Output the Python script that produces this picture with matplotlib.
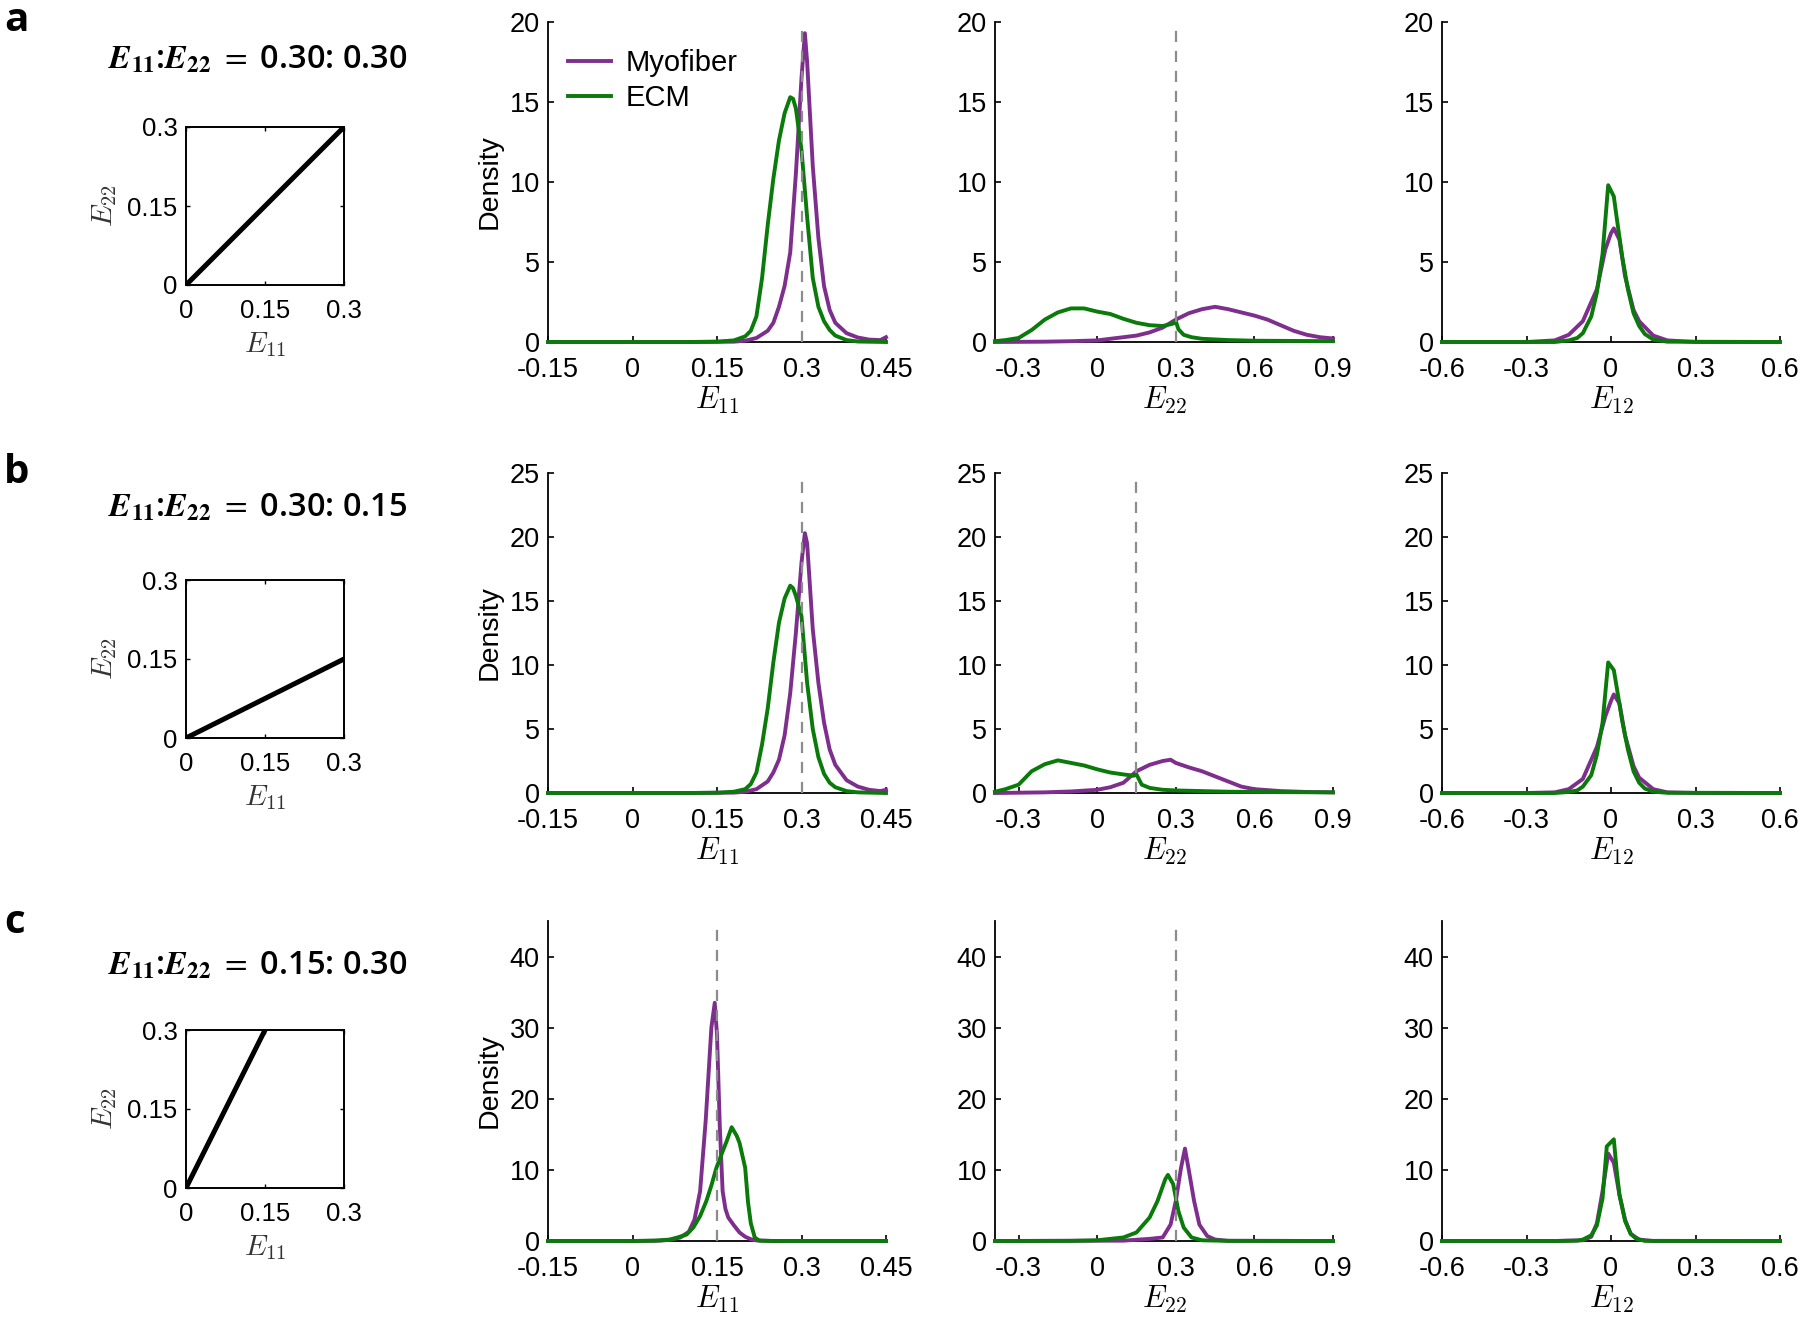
import matplotlib
matplotlib.use('Agg')
import matplotlib.pyplot as plt

plt.rcParams['font.family'] = ['Liberation Sans', 'DejaVu Sans']
plt.rcParams['axes.unicode_minus'] = False

MYO = '#7E2F8E'
ECM = '#0A7A0A'

# ---- row labels / loading ratios ----
row_labels = ['a', 'b', 'c']
ratio_e11 = [0.30, 0.30, 0.15]
ratio_e22 = [0.30, 0.15, 0.30]
ratio_text = ['0.30: 0.30', '0.30: 0.15', '0.15: 0.30']
row_ylim = [20, 25, 45]
row_yticks = [[0, 5, 10, 15, 20], [0, 5, 10, 15, 20, 25], [0, 10, 20, 30, 40]]

# ---- row a ----
a_e11_myo_x = [-0.15, 0.10, 0.18, 0.20, 0.22, 0.24, 0.25, 0.26, 0.27, 0.28, 0.29, 0.30, 0.306, 0.31,
               0.32, 0.33, 0.34, 0.35, 0.36, 0.38, 0.40, 0.42, 0.44, 0.45]
a_e11_myo_y = [0, 0, 0.02, 0.08, 0.25, 0.7, 1.2, 2.2, 3.5, 5.6, 10.5, 16.5, 19.3, 17.5,
               11.0, 6.5, 3.5, 2.0, 1.2, 0.55, 0.28, 0.15, 0.12, 0.3]
a_e11_ecm_x = [-0.15, 0.10, 0.15, 0.18, 0.20, 0.21, 0.22, 0.23, 0.24, 0.25, 0.26, 0.27, 0.28, 0.285,
               0.29, 0.30, 0.31, 0.32, 0.33, 0.34, 0.35, 0.36, 0.38, 0.40, 0.45]
a_e11_ecm_y = [0, 0, 0.02, 0.1, 0.35, 0.7, 1.6, 4.0, 7.3, 10.2, 12.6, 14.3, 15.3, 15.2,
               14.6, 12.0, 7.8, 4.0, 2.2, 1.3, 0.75, 0.4, 0.12, 0.03, 0]

a_e22_myo_x = [-0.39, -0.2, -0.1, 0, 0.1, 0.15, 0.2, 0.25, 0.3, 0.35, 0.4, 0.45, 0.5, 0.55, 0.6,
               0.65, 0.7, 0.75, 0.8, 0.85, 0.9]
a_e22_myo_y = [0, 0.02, 0.05, 0.1, 0.3, 0.4, 0.6, 0.9, 1.4, 1.8, 2.05, 2.2, 2.05, 1.85, 1.65,
               1.4, 1.05, 0.7, 0.45, 0.3, 0.22]
a_e22_ecm_x = [-0.39, -0.35, -0.3, -0.25, -0.2, -0.15, -0.1, -0.05, 0, 0.05, 0.1, 0.15, 0.2, 0.25,
               0.29, 0.30, 0.31, 0.33, 0.36, 0.4, 0.5, 0.6, 0.9]
a_e22_ecm_y = [0.05, 0.12, 0.25, 0.75, 1.4, 1.85, 2.1, 2.1, 1.9, 1.75, 1.45, 1.2, 1.05, 1.0,
               1.15, 1.3, 0.8, 0.45, 0.3, 0.2, 0.12, 0.08, 0.05]

a_e12_myo_x = [-0.6, -0.3, -0.2, -0.15, -0.1, -0.05, -0.02, 0.0, 0.01, 0.03, 0.05, 0.08, 0.1, 0.15,
               0.2, 0.3, 0.6]
a_e12_myo_y = [0, 0, 0.1, 0.45, 1.3, 3.3, 5.8, 6.8, 7.1, 6.4, 4.1, 2.0, 1.3, 0.4, 0.1, 0, 0]
a_e12_ecm_x = [-0.6, -0.2, -0.15, -0.12, -0.1, -0.07, -0.05, -0.03, -0.01, 0.01, 0.02, 0.04, 0.06,
               0.08, 0.1, 0.12, 0.15, 0.2, 0.6]
a_e12_ecm_y = [0, 0, 0.1, 0.25, 0.55, 1.6, 3.1, 5.5, 9.8, 9.1, 7.8, 5.3, 3.3, 1.8, 1.0, 0.5,
               0.15, 0.02, 0]

# ---- row b ----
b_e11_myo_x = [-0.15, 0.10, 0.18, 0.20, 0.22, 0.24, 0.25, 0.26, 0.27, 0.28, 0.29, 0.30, 0.306, 0.31,
               0.32, 0.33, 0.34, 0.35, 0.36, 0.38, 0.40, 0.42, 0.44, 0.45]
b_e11_myo_y = [0, 0, 0.03, 0.1, 0.3, 0.9, 1.6, 2.6, 4.5, 7.8, 12.5, 18.0, 20.3, 19.5,
               12.8, 8.6, 5.5, 3.4, 2.2, 1.0, 0.5, 0.25, 0.15, 0.25]
b_e11_ecm_x = [-0.15, 0.10, 0.15, 0.18, 0.20, 0.21, 0.22, 0.23, 0.24, 0.25, 0.26, 0.27, 0.28, 0.285,
               0.29, 0.30, 0.31, 0.32, 0.33, 0.34, 0.35, 0.36, 0.38, 0.40, 0.45]
b_e11_ecm_y = [0, 0, 0.02, 0.1, 0.3, 0.7, 1.6, 3.8, 6.6, 10.2, 13.3, 15.2, 16.2, 16.0,
               15.4, 13.8, 8.6, 5.0, 2.8, 1.5, 0.8, 0.45, 0.15, 0.05, 0]

b_e22_myo_x = [-0.39, -0.2, -0.1, 0, 0.05, 0.1, 0.15, 0.2, 0.25, 0.28, 0.3, 0.35, 0.4, 0.45, 0.5,
               0.55, 0.6, 0.7, 0.8, 0.9]
b_e22_myo_y = [0, 0.05, 0.12, 0.25, 0.45, 0.8, 1.7, 2.2, 2.5, 2.6, 2.35, 2.0, 1.7, 1.3, 0.9,
               0.5, 0.3, 0.15, 0.08, 0.05]
b_e22_ecm_x = [-0.39, -0.35, -0.3, -0.25, -0.2, -0.15, -0.1, -0.05, 0, 0.05, 0.1, 0.14, 0.15, 0.17,
               0.2, 0.25, 0.3, 0.4, 0.5, 0.7, 0.9]
b_e22_ecm_y = [0.1, 0.3, 0.65, 1.7, 2.25, 2.55, 2.35, 2.15, 1.85, 1.6, 1.45, 1.35, 1.45, 0.65,
               0.4, 0.25, 0.2, 0.15, 0.1, 0.07, 0.05]

b_e12_myo_x = [-0.6, -0.3, -0.2, -0.15, -0.1, -0.05, -0.02, 0.0, 0.01, 0.03, 0.05, 0.08, 0.1, 0.15,
               0.2, 0.3, 0.6]
b_e12_myo_y = [0, 0, 0.05, 0.3, 1.1, 3.6, 6.0, 7.2, 7.7, 7.0, 4.5, 2.1, 1.2, 0.3, 0.05, 0, 0]
b_e12_ecm_x = [-0.6, -0.2, -0.15, -0.12, -0.1, -0.07, -0.05, -0.03, -0.01, 0.01, 0.02, 0.04, 0.06,
               0.08, 0.1, 0.12, 0.15, 0.2, 0.6]
b_e12_ecm_y = [0, 0, 0.08, 0.2, 0.5, 1.4, 3.0, 5.5, 10.2, 9.6, 8.3, 5.6, 3.4, 1.7, 0.8, 0.35,
               0.1, 0.02, 0]

# ---- row c ----
c_e11_myo_x = [-0.15, 0.0, 0.05, 0.07, 0.085, 0.10, 0.11, 0.12, 0.13, 0.14, 0.146, 0.15, 0.155,
               0.16, 0.165, 0.17, 0.18, 0.19, 0.20, 0.21, 0.22, 0.25, 0.45]
c_e11_myo_y = [0, 0, 0.05, 0.2, 0.5, 1.3, 3.0, 7.0, 17.0, 30.0, 33.5, 29.0, 16.0,
               7.0, 4.5, 3.3, 2.2, 1.2, 0.6, 0.25, 0.08, 0, 0]
c_e11_ecm_x = [-0.15, 0.0, 0.04, 0.066, 0.08, 0.096, 0.108, 0.12, 0.131, 0.14, 0.149, 0.16, 0.167,
               0.176, 0.185, 0.19, 0.20, 0.205, 0.21, 0.217, 0.225, 0.25, 0.45]
c_e11_ecm_y = [0, 0, 0.05, 0.2, 0.5, 0.9, 1.9, 3.5, 5.6, 7.8, 10.3, 12.6, 14.0,
               16.0, 14.8, 13.8, 10.3, 5.5, 2.5, 0.5, 0.05, 0, 0]

c_e22_myo_x = [-0.39, 0.1, 0.2, 0.25, 0.28, 0.3, 0.32, 0.335, 0.35, 0.37, 0.39, 0.42, 0.45, 0.5, 0.9]
c_e22_myo_y = [0, 0.05, 0.3, 0.5, 2.3, 5.6, 10.3, 13.0, 9.9, 5.6, 2.3, 0.7, 0.2, 0.03, 0]
c_e22_ecm_x = [-0.39, -0.1, 0, 0.1, 0.15, 0.2, 0.23, 0.26, 0.27, 0.29, 0.31, 0.33, 0.36, 0.4, 0.5, 0.9]
c_e22_ecm_y = [0, 0.02, 0.1, 0.5, 1.2, 3.3, 5.6, 8.7, 9.3, 8.0, 4.2, 1.9, 0.5, 0.1, 0.02, 0]

c_e12_myo_x = [-0.6, -0.2, -0.1, -0.07, -0.05, -0.03, -0.01, 0.01, 0.03, 0.05, 0.07, 0.1, 0.15, 0.6]
c_e12_myo_y = [0, 0, 0.1, 0.6, 2.5, 7.0, 12.3, 11.0, 6.5, 3.0, 1.0, 0.2, 0, 0]
c_e12_ecm_x = [-0.6, -0.2, -0.12, -0.1, -0.07, -0.05, -0.03, -0.015, 0.01, 0.02, 0.03, 0.05, 0.07,
               0.09, 0.12, 0.6]
c_e12_ecm_y = [0, 0, 0.05, 0.2, 0.8, 2.2, 6.0, 13.3, 14.3, 10.0, 6.5, 2.8, 1.0, 0.3, 0.02, 0]

# ---- axes per column ----
col_names = [r'$E_{11}$', r'$E_{22}$', r'$E_{12}$']
col_xlim = [(-0.15, 0.45), (-0.39, 0.9), (-0.6, 0.6)]
col_xticks = [[-0.15, 0, 0.15, 0.3, 0.45], [-0.3, 0, 0.3, 0.6, 0.9], [-0.6, -0.3, 0, 0.3, 0.6]]
col_xticklabels = [['-0.15', '0', '0.15', '0.3', '0.45'], ['-0.3', '0', '0.3', '0.6', '0.9'],
                   ['-0.6', '-0.3', '0', '0.3', '0.6']]

curves = [
    [(a_e11_myo_x, a_e11_myo_y, a_e11_ecm_x, a_e11_ecm_y),
     (a_e22_myo_x, a_e22_myo_y, a_e22_ecm_x, a_e22_ecm_y),
     (a_e12_myo_x, a_e12_myo_y, a_e12_ecm_x, a_e12_ecm_y)],
    [(b_e11_myo_x, b_e11_myo_y, b_e11_ecm_x, b_e11_ecm_y),
     (b_e22_myo_x, b_e22_myo_y, b_e22_ecm_x, b_e22_ecm_y),
     (b_e12_myo_x, b_e12_myo_y, b_e12_ecm_x, b_e12_ecm_y)],
    [(c_e11_myo_x, c_e11_myo_y, c_e11_ecm_x, c_e11_ecm_y),
     (c_e22_myo_x, c_e22_myo_y, c_e22_ecm_x, c_e22_ecm_y),
     (c_e12_myo_x, c_e12_myo_y, c_e12_ecm_x, c_e12_ecm_y)],
]

W, H = 1800, 1321
fig = plt.figure(figsize=(W / 100, H / 100), dpi=100)

main_left = [548, 995, 1442]
main_top = [22, 473, 921]
main_w, main_h = 338, 320
inset_left, inset_size = 186, 158
inset_top = [127, 580, 1030]
title_y = [60, 508, 966]
label_base = [31, 483, 933]


def px_axes(left, top, w, h):
    return fig.add_axes([left / W, 1 - (top + h) / H, w / W, h / H])


for r in range(3):
    # panel letter and loading title
    fig.text(4 / W, 1 - label_base[r] / H, row_labels[r], fontsize=29, fontweight='bold',
             family='Open Sans', ha='left', va='baseline')
    fig.text(258 / W, 1 - title_y[r] / H,
             r'$\mathbfit{E}_{\mathbf{11}}$:$\mathbfit{E}_{\mathbf{22}}$ $=$ ' + ratio_text[r],
             fontsize=23.5, fontweight='semibold', family='Open Sans', math_fontfamily='stix',
             ha='center', va='center')

    # loading path inset
    ax = px_axes(inset_left, inset_top[r], inset_size, inset_size)
    ax.plot([0, ratio_e11[r]], [0, ratio_e22[r]], color='black', lw=3.6, solid_capstyle='round')
    ax.set_xlim(0, 0.3)
    ax.set_ylim(0, 0.3)
    ax.set_xticks([0, 0.15, 0.3])
    ax.set_xticklabels(['0', '0.15', '0.3'])
    ax.set_yticks([0, 0.15, 0.3])
    ax.set_yticklabels(['0', '0.15', '0.3'])
    ax.tick_params(direction='in', length=3, width=1, labelsize=18.5, top=True, right=True)
    ax.tick_params(axis='x', pad=10)
    ax.tick_params(axis='y', pad=6)
    for s in ax.spines.values():
        s.set_linewidth(1.4)
    ax.set_xlabel(r'$E_{11}$', fontsize=21, math_fontfamily='cm', labelpad=5, color='#333333')
    ax.set_ylabel(r'$E_{22}$', fontsize=21, math_fontfamily='cm', labelpad=6, color='#333333')

    for c in range(3):
        ax = px_axes(main_left[c], main_top[r], main_w, main_h)
        mx, my, ex, ey = curves[r][c]
        ax.plot(mx, my, color=MYO, lw=2.8, label='Myofiber', clip_on=False, zorder=3)
        ax.plot(ex, ey, color=ECM, lw=2.8, label='ECM', clip_on=False, zorder=4)
        if c < 2:
            xv = ratio_e11[r] if c == 0 else ratio_e22[r]
            ax.axvline(xv, color='#8c8c8c', lw=1.6, ls=(0, (5, 4)), zorder=5)
        ax.set_xlim(*col_xlim[c])
        ax.set_ylim(0, row_ylim[r])
        ax.set_xticks(col_xticks[c])
        ax.set_xticklabels(col_xticklabels[c])
        ax.set_yticks(row_yticks[r])
        ax.spines['top'].set_visible(False)
        ax.spines['right'].set_visible(False)
        ax.spines['left'].set_linewidth(1.3)
        ax.spines['bottom'].set_linewidth(1.3)
        ax.tick_params(direction='in', length=4, width=1.2, labelsize=19.5)
        ax.tick_params(axis='x', pad=11)
        ax.tick_params(axis='y', pad=6)
        ax.set_xlabel(col_names[c], fontsize=22, math_fontfamily='cm', labelpad=1)
        if c == 0:
            ax.set_ylabel('Density', fontsize=20.5, labelpad=5)
        if r == 0 and c == 0:
            ax.legend(loc='upper left', bbox_to_anchor=(0.06, 0.915), frameon=False,
                      fontsize=21, handlelength=1.45, handletextpad=0.5, labelspacing=0.25,
                      borderpad=0, borderaxespad=0)

fig.savefig('out.png', dpi=100)
